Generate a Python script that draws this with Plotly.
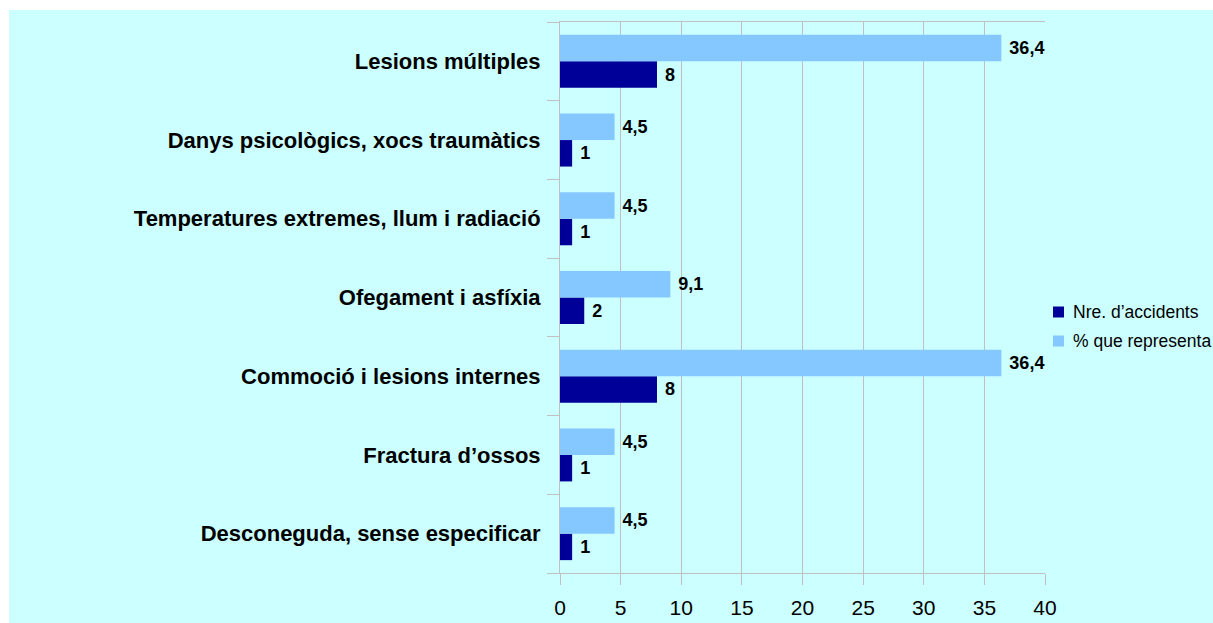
import plotly.graph_objects as go

categories = [
    "Desconeguda, sense especificar",
    "Fractura d’ossos",
    "Commoció i lesions internes",
    "Ofegament i asfíxia",
    "Temperatures extremes, llum i radiació",
    "Danys psicològics, xocs traumàtics",
    "Lesions múltiples",
]
nre_accidents = [1, 1, 8, 2, 1, 1, 8]
percent = [4.5, 4.5, 36.4, 9.1, 4.5, 4.5, 36.4]
nre_labels = ["1", "1", "8", "2", "1", "1", "8"]
percent_labels = ["4,5", "4,5", "36,4", "9,1", "4,5", "4,5", "36,4"]
x_ticks = [0, 5, 10, 15, 20, 25, 30, 35, 40]
series_names = ["Nre. d’accidents", "% que representa"]
series_colors = ["#000099", "#85C8FF"]

BG = "#CCFFFF"
GRID = "#C0C0C0"
FONT = "Liberation Sans, Arial, sans-serif"

W, H = 1213, 623
L, R, T, B = 560, 1045, 22, 573
pw, ph = R - L, B - T


def px(xr):
    return (xr - L) / pw


def py(yr):
    return (B - yr) / ph


fig = go.Figure()
for name, vals, labels, color in [
    (series_names[0], nre_accidents, nre_labels, series_colors[0]),
    (series_names[1], percent, percent_labels, series_colors[1]),
]:
    fig.add_trace(go.Bar(
        y=categories, x=vals, orientation="h",
        name=name, marker=dict(color=color, line=dict(width=0)),
        text=labels, texttemplate=" %{text}", textposition="outside",
        textfont=dict(family=FONT, size=18, color="black", weight="bold"),
        cliponaxis=False, showlegend=False,
    ))

shapes = [dict(
    type="rect", xref="paper", yref="paper", layer="below",
    x0=px(9), x1=px(W + 20), y0=py(H + 20), y1=py(10),
    fillcolor=BG, line=dict(width=0),
)]
annotations = []
leg_rows = [312, 341]
for name, color, yc in zip(series_names, series_colors, leg_rows):
    shapes.append(dict(
        type="rect", xref="paper", yref="paper",
        x0=px(1053), x1=px(1064), y0=py(yc + 5.5), y1=py(yc - 5.5),
        fillcolor=color, line=dict(width=0),
    ))
    annotations.append(dict(
        xref="paper", yref="paper", x=px(1071), y=py(yc),
        xanchor="left", yanchor="middle", showarrow=False,
        text=name, font=dict(family=FONT, size=17.5, color="black"),
    ))

fig.update_layout(
    width=W, height=H,
    margin=dict(l=L, r=W - R, t=T, b=H - B, pad=0),
    paper_bgcolor="white", plot_bgcolor=BG,
    barmode="group", bargap=0.327, bargroupgap=0,
    font=dict(family=FONT, color="black"),
    showlegend=False,
    xaxis=dict(
        range=[0, 40], tickvals=x_ticks, ticktext=[str(v) for v in x_ticks],
        showgrid=True, gridcolor=GRID, gridwidth=1,
        showline=True, linecolor=GRID, linewidth=1, mirror=True,
        ticks="outside", ticklen=11, tickcolor=GRID, tickwidth=1,
        ticklabelstandoff=5,
        tickfont=dict(family=FONT, size=21, color="black"),
        zeroline=False, fixedrange=True, automargin=False,
    ),
    yaxis=dict(
        categoryorder="array", categoryarray=categories,
        showgrid=False, showline=True, linecolor=GRID, linewidth=1,
        ticks="outside", ticklen=12, tickcolor=GRID, tickwidth=1,
        tickson="boundaries", ticklabelstandoff=14,
        tickfont=dict(family=FONT, size=22, color="black", weight="bold"),
        zeroline=False, fixedrange=True, automargin=False,
    ),
    shapes=shapes,
    annotations=annotations,
)

fig.write_html(
    "out.html",
    config={"displayModeBar": False},
    post_script="document.body.style.margin='0';document.body.style.overflow='hidden';",
)
